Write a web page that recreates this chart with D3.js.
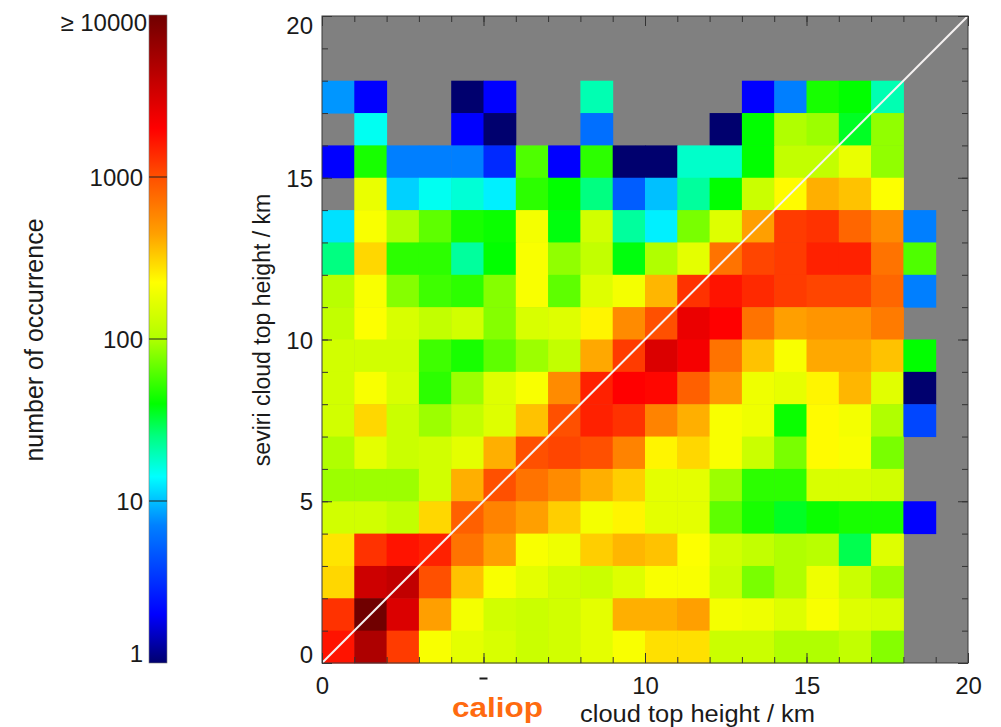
<!DOCTYPE html>
<meta charset="utf-8">
<script src="https://d3js.org/d3.v7.min.js"></script>
<style>
body { margin: 0; background: #fff; }
svg { display: block; font-family: "Liberation Sans", Arial, sans-serif; }
.lbl { fill: #1a1a1a; font-size: 23px; }
.tick text { fill: #1a1a1a; font-size: 24px; font-family: "Liberation Sans", Arial, sans-serif; }
.tick line { stroke: #333; }
.domain { display: none; }
</style>
<div id="chart"></div>
<script>
// bin edges in km (caliop on x, seviri on y)
var xBins = d3.range(0, 20);
var yBins = d3.range(0, 20);
var majorTicks = [0, 5, 10, 15, 20];
var cbarTicks = [1, 10, 100, 1000, 10000];
var cbarLabels = ["1", "10", "100", "1000", "\u2265 10000"];

// number of occurrences per bin, listed from the top row (19-20 km) down to 0-1 km; 0 = no data
var counts = [
  [0,0,0,0,0,0,0,0,0,0,0,0,0,0,0,0,0,0,0,0],
  [0,0,0,0,0,0,0,0,0,0,0,0,0,0,0,0,0,0,0,0],
  [8,2,0,0,1,2,0,0,20,0,0,0,0,2,7,45,40,20,0,0],
  [0,15,0,0,2,1,0,0,6,0,0,0,1,40,100,90,35,85,0,0],
  [2,45,7,7,7,3,60,2,50,1,1,18,18,40,120,120,180,85,0,0],
  [0,180,11,15,17,13,50,40,25,5,10,22,40,130,230,400,350,220,0,0],
  [12,210,100,65,45,42,200,38,140,22,13,75,160,450,1200,1300,800,550,7,0],
  [25,300,50,50,22,40,210,85,120,38,100,170,700,1100,1200,1500,1500,700,60,0],
  [110,210,80,55,50,80,210,65,160,200,380,1300,1700,1400,1200,1100,1100,800,7,0],
  [120,220,150,120,140,80,150,160,240,550,1000,2500,2000,700,450,500,500,650,0,0],
  [140,140,140,55,45,65,90,120,420,1200,3000,2200,700,350,210,420,420,350,40,0],
  [140,210,150,50,90,160,210,550,1500,2000,1900,850,480,190,175,240,380,165,1,0],
  [140,300,130,90,120,160,350,1000,1500,1300,600,400,210,190,42,230,200,100,4,0],
  [100,170,130,140,170,400,1000,1100,1000,600,240,300,210,130,75,230,210,75,0,0],
  [90,90,90,140,400,1000,700,550,400,320,170,170,90,50,50,150,150,140,0,0],
  [140,140,120,300,850,600,450,320,200,240,170,170,65,45,35,42,45,45,2,0],
  [270,1300,1700,1500,700,450,210,190,320,380,350,220,140,120,100,110,30,160,0,0],
  [300,3500,4000,1000,350,210,170,140,130,160,210,210,130,75,100,190,130,90,0,0],
  [1300,10000,3000,450,200,140,130,140,170,400,400,450,200,190,160,210,160,150,0,0],
  [1700,5000,1200,210,170,150,130,140,170,210,280,280,130,130,100,100,120,80,0,0]
];

// colour table stops (log10 of count)
var cStops = [0, 0.3, 0.85, 1.15, 1.4, 1.6, 2.0, 2.35, 2.65, 3.0, 3.3, 4.0];
var cColors = ["#00006e","#0000ff","#0080ff","#00ffff","#00ff80","#00ff00","#b0ff00","#ffff00","#ffa000","#ff5000","#ff0000","#700000"];

var W = 1001, H = 727;
var plot = {left: 322, right: 968, top: 16, bottom: 663};
var cbar = {left: 149, right: 167};

var svg = d3.select("#chart").append("svg").attr("width", W).attr("height", H);

var x = d3.scaleLinear().domain([0, 20]).range([plot.left, plot.right]);
var y = d3.scaleLinear().domain([0, 20]).range([plot.bottom, plot.top]);
var logc = d3.scaleLinear().domain(cStops).range(cColors).interpolate(d3.interpolateRgb).clamp(true);
var color = function(v) { return logc(Math.log10(v)); };

// heatmap cells
var cells = [];
counts.forEach(function(row, i) {
  var yb = yBins[counts.length - 1 - i];
  row.forEach(function(v, j) { cells.push({x: xBins[j], y: yb, v: v}); });
});

svg.append("rect")
  .attr("x", plot.left).attr("y", plot.top)
  .attr("width", plot.right - plot.left).attr("height", plot.bottom - plot.top)
  .attr("fill", "#808080");

svg.append("g").selectAll("rect").data(cells.filter(function(d) { return d.v > 0; })).enter().append("rect")
  .attr("x", function(d) { return x(d.x); })
  .attr("y", function(d) { return y(d.y + 1); })
  .attr("width", function(d) { return x(d.x + 1) - x(d.x) + 0.5; })
  .attr("height", function(d) { return y(d.y) - y(d.y + 1) + 0.5; })
  .attr("fill", function(d) { return color(d.v); });

// 1:1 line
svg.append("line")
  .attr("x1", x(0)).attr("y1", y(0)).attr("x2", x(20)).attr("y2", y(20))
  .attr("stroke", "#f6f2f2").attr("stroke-width", 2);

// axes, ticks point inward; the "5" under the caliop tag only shows its top stroke
var minor = d3.range(0, 21);
svg.append("g").attr("transform", "translate(0," + plot.bottom + ")")
  .call(d3.axisBottom(x).tickValues(minor).tickSize(-6).tickFormat(""));
svg.append("g").attr("transform", "translate(0," + plot.bottom + ")")
  .call(d3.axisBottom(x).tickValues(majorTicks).tickSize(-10).tickPadding(14)
    .tickFormat(function(d) { return d == 5 ? "" : d; }));
svg.append("line")
  .attr("x1", x(5) - 4).attr("x2", x(5) + 4).attr("y1", 678.5).attr("y2", 678.5)
  .attr("stroke", "#1a1a1a").attr("stroke-width", 2);
svg.append("g").attr("transform", "translate(0," + plot.top + ")")
  .call(d3.axisTop(x).tickValues(minor).tickSize(-6).tickFormat(""));
svg.append("g").attr("transform", "translate(0," + plot.top + ")")
  .call(d3.axisTop(x).tickValues(majorTicks).tickSize(-10).tickFormat(""));
svg.append("g").attr("transform", "translate(" + plot.left + ",0)")
  .call(d3.axisLeft(y).tickValues(minor).tickSize(-6).tickFormat(""));
var yAx = svg.append("g").attr("transform", "translate(" + plot.left + ",0)")
  .call(d3.axisLeft(y).tickValues(majorTicks).tickSize(-10).tickPadding(9).tickFormat(d3.format("d")));
svg.append("g").attr("transform", "translate(" + plot.right + ",0)")
  .call(d3.axisRight(y).tickValues(minor).tickSize(-6).tickFormat(""));
svg.append("g").attr("transform", "translate(" + plot.right + ",0)")
  .call(d3.axisRight(y).tickValues(majorTicks).tickSize(-10).tickFormat(""));

// top and bottom labels are kept inside the frame height
yAx.selectAll(".tick text").attr("dy", function(d) { return d == 20 ? "0.72em" : d == 0 ? "-0.02em" : "0.36em"; });

svg.append("rect")
  .attr("x", plot.left).attr("y", plot.top)
  .attr("width", plot.right - plot.left).attr("height", plot.bottom - plot.top)
  .attr("fill", "none").attr("stroke", "#3a3a3a").attr("stroke-width", 1);

svg.append("text").attr("class", "lbl")
  .attr("transform", "translate(270,330) rotate(-90)")
  .attr("text-anchor", "middle")
  .text("seviri cloud top height / km");

svg.append("text").attr("class", "lbl")
  .attr("x", 580).attr("y", 722)
  .attr("textLength", 235).attr("lengthAdjust", "spacingAndGlyphs")
  .text("cloud top height / km");

// colour bar
var cy = d3.scaleLog().domain([1, 10000]).range([plot.bottom, plot.top - 1]);
var grad = svg.append("defs").append("linearGradient").attr("id", "cbar")
  .attr("x1", 0).attr("y1", 1).attr("x2", 0).attr("y2", 0);
d3.range(0, 4.0001, 0.05).forEach(function(t) {
  grad.append("stop").attr("offset", t / 4).attr("stop-color", logc(t));
});
svg.append("rect")
  .attr("x", cbar.left).attr("y", cy(10000))
  .attr("width", cbar.right - cbar.left).attr("height", cy(1) - cy(10000))
  .attr("fill", "url(#cbar)").attr("stroke", "#777").attr("stroke-width", 0.6);
svg.append("g").selectAll("line").data(cbarTicks.slice(1, 4)).enter().append("line")
  .attr("x1", cbar.left).attr("x2", cbar.right)
  .attr("y1", function(d) { return cy(d); }).attr("y2", function(d) { return cy(d); })
  .attr("stroke", "#222").attr("stroke-width", 1);
svg.append("g").selectAll("text").data(cbarTicks).enter().append("text")
  .attr("class", "lbl").style("font-size", "24px")
  .attr("text-anchor", "end")
  .attr("x", function(d) { return d == 10000 ? 147 : 143; })
  .attr("y", function(d) { return cy(d); })
  .attr("dy", function(d) { return d == 10000 ? "0.68em" : d == 1 ? "-0.05em" : "0.36em"; })
  .text(function(d, i) { return cbarLabels[i]; });

svg.append("text").attr("class", "lbl").style("font-size", "25px")
  .attr("transform", "translate(43,340) rotate(-90)")
  .attr("text-anchor", "middle")
  .text("number of occurrence");

// pasted "caliop" tag covering part of the axis
svg.append("rect").attr("x", 440).attr("y", 681).attr("width", 120).attr("height", 46).attr("fill", "#fff");
svg.append("text")
  .attr("x", 452).attr("y", 717)
  .attr("textLength", 91).attr("lengthAdjust", "spacingAndGlyphs")
  .style("font-size", "27px").style("font-weight", "bold").style("fill", "#ff6a10")
  .text("caliop");
</script>
